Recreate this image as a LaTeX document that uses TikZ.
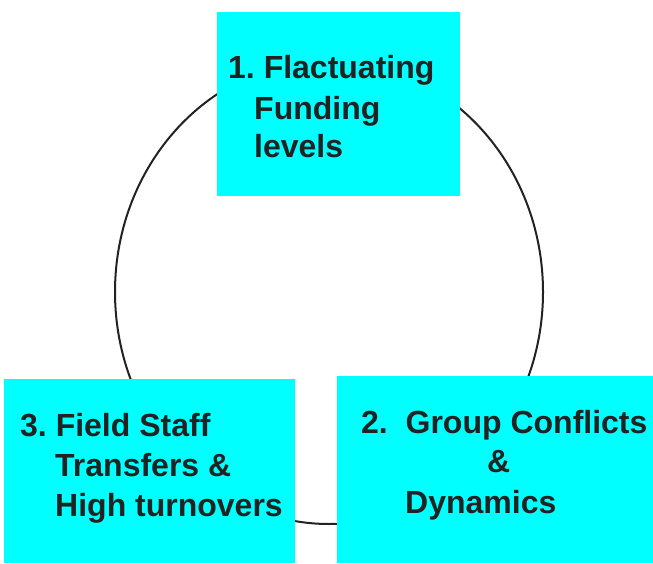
\documentclass[tikz,border=0pt]{standalone}
\usepackage{fontspec}
\setmainfont{Liberation Sans}
\begin{document}
\frenchspacing
\begin{tikzpicture}[x=1pt,y=-1pt,
  box/.style={draw=none,fill=cyan,inner sep=0pt},
  txt/.style={anchor=base west,inner sep=0pt,text=ink,font=\fontsize{32}{40}\selectfont\bfseries},
  ring/.style={draw=ink,line width=2pt}]
\definecolor{cyan}{RGB}{0,255,255}
\definecolor{ink}{RGB}{34,34,34}
\useasboundingbox (0,0) rectangle (653,563);
% cycle ring behind the boxes
\draw[ring] (329,292) ellipse [x radius=214, y radius=232];
% the three boxes
\node[box,minimum width=243pt,minimum height=184pt] (b1) at (338.5,104) {};
\node[box,minimum width=316pt,minimum height=187pt] (b2) at (495,469.5) {};
\node[box,minimum width=291pt,minimum height=184pt] (b3) at (149.5,471) {};
% box 1
\node[txt] (t1a) at (228,78) {1. Flactuating};
\node[txt] (t1b) at (254,119) {Funding};
\node[txt] (t1c) at (254,157) {levels};
% box 2
\node[txt] (t2a) at (361,433) {2.~~Group Conflicts};
\node[txt] (t2b) at (487,472) {\&};
\node[txt] (t2c) at (405,513) {Dynamics};
% box 3
\node[txt] (t3a) at (20,436) {3. Field Staff};
\node[txt] (t3b) at (55,476) {Transfers \&};
\node[txt] (t3c) at (55,516) {High turnovers};
\end{tikzpicture}
\end{document}
